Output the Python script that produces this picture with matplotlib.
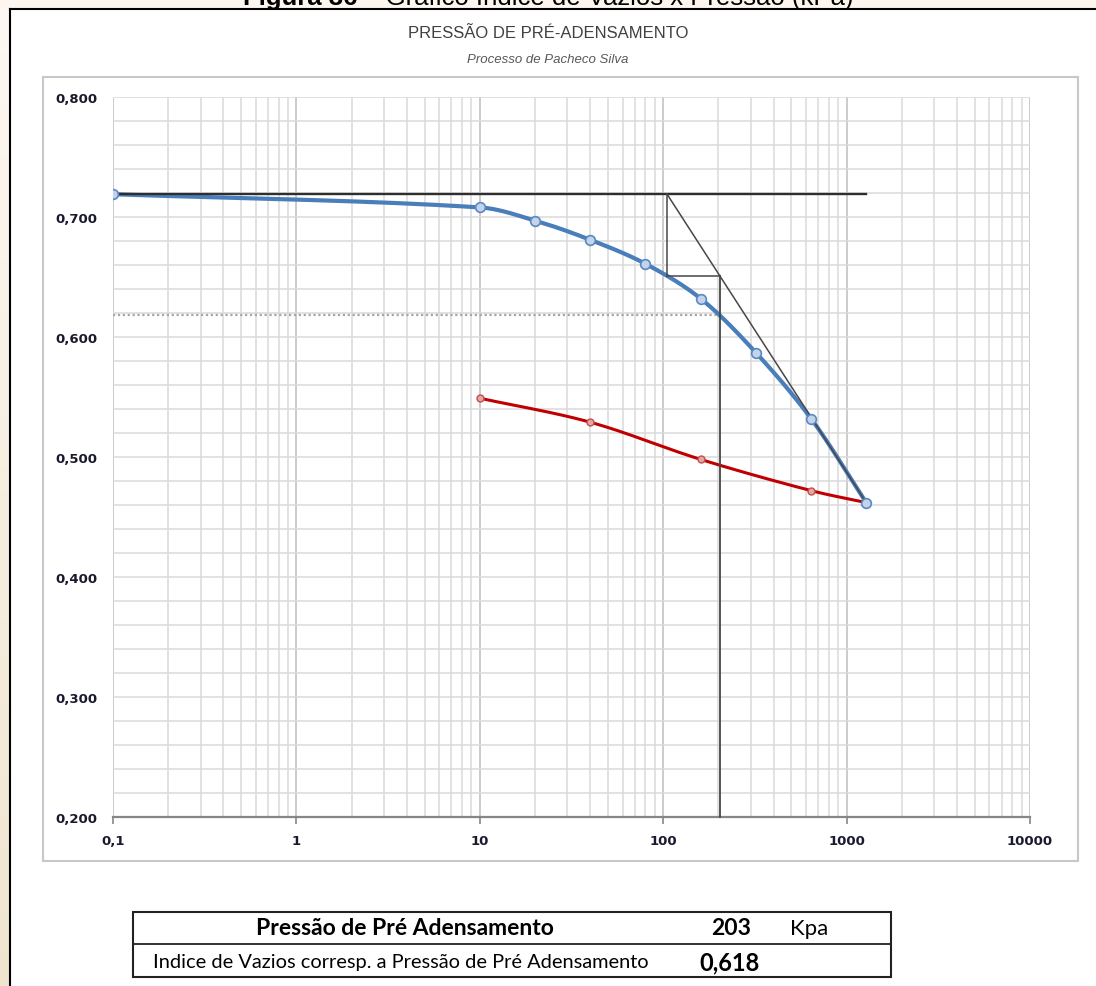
import matplotlib
matplotlib.use('Agg')
import matplotlib.pyplot as plt
import numpy as np
from matplotlib.patches import Rectangle
from matplotlib.lines import Line2D
from matplotlib.ticker import LogLocator, MultipleLocator, NullFormatter

# ensaio de adensamento - carregamento e descarregamento
pressure_load = [0.1, 10, 20, 40, 80, 160, 320, 640, 1280]
void_load = [0.719, 0.708, 0.697, 0.681, 0.661, 0.632, 0.587, 0.532, 0.462]
pressure_unload = [10, 40, 160, 640, 1280]
void_unload = [0.549, 0.529, 0.498, 0.472, 0.462]

# construcao de Pacheco Silva
e0 = 0.719
p_intersect = 105      # reta virgem encontra e0
e_step = 0.651         # nivel da horizontal auxiliar
p_pre = 203            # pressao de pre-adensamento
e_pre = 0.618          # indice de vazios correspondente
p_end = 1280

x_ticks = [0.1, 1, 10, 100, 1000, 10000]
x_labels = ['0,1', '1', '10', '100', '1000', '10000']
y_ticks = [0.2, 0.3, 0.4, 0.5, 0.6, 0.7, 0.8]
y_labels = ['0,200', '0,300', '0,400', '0,500', '0,600', '0,700', '0,800']

W, H = 1096, 987


def fx(px):
    return px / W


def fy(py):
    return 1 - py / H


def smooth(xs, ys, n=40):
    # curva suavizada (bezier) calculada em escala de tela: log x, y
    sx, sy = 183.4, 1200.0
    P = np.column_stack([np.log10(xs) * sx, np.asarray(ys, float) * sy])
    m = len(P)
    T = np.zeros_like(P)
    for i in range(m):
        a = P[max(i - 1, 0)]
        b = P[min(i + 1, m - 1)]
        d = b - a
        T[i] = d / np.hypot(*d)
    t = np.linspace(0, 1, n)[:, None]
    out = []
    for i in range(m - 1):
        p1, p2 = P[i], P[i + 1]
        L = np.hypot(*(p2 - p1)) / 3
        c1 = p1 + T[i] * L
        c2 = p2 - T[i + 1] * L
        seg = (1 - t) ** 3 * p1 + 3 * (1 - t) ** 2 * t * c1 \
            + 3 * (1 - t) * t ** 2 * c2 + t ** 3 * p2
        out.append(seg)
    seg = np.vstack(out)
    return 10 ** (seg[:, 0] / sx), seg[:, 1] / sy


fig = plt.figure(figsize=(W / 100, H / 100), dpi=100)
fig.patch.set_facecolor('white')

# faixa da pagina (fundo bege)
bg = fig.add_axes([0, 0, fx(10), 1])
grad = np.linspace(0, 1, 200)[:, None]
cm = matplotlib.colors.LinearSegmentedColormap.from_list('pg', ['#efe5cf', '#fdf8f3'])
bg.imshow(grad, aspect='auto', cmap=cm, origin='lower', extent=[0, 1, 0, 1])
bg.axis('off')
fig.patches.append(Rectangle((0, fy(10)), 1, 10 / H, transform=fig.transFigure,
                             facecolor='#fdf6ee', edgecolor='none', zorder=0))
fig.lines.append(Line2D([fx(10), 1], [fy(10), fy(10)], transform=fig.transFigure,
                        color='black', lw=1.5))
fig.lines.append(Line2D([fx(10), fx(10)], [0, fy(10)], transform=fig.transFigure,
                        color='black', lw=1.5))

# legenda da figura (cortada no topo da pagina)
cap1 = fig.text(fx(243), fy(5), 'Figura 36', ha='left', va='baseline', fontsize=18.5,
                fontweight='bold', family='Liberation Sans', zorder=3)
fig.canvas.draw()
x1 = cap1.get_window_extent().x1 / W
fig.text(x1, fy(5), ' – Gráfico Índice de Vazios x Pressão (kPa)', ha='left',
         va='baseline', fontsize=18.5, family='Liberation Sans', zorder=3)

# caixa da area do grafico
fig.patches.append(Rectangle((fx(43), fy(862)), (1078 - 43) / W, (862 - 78) / H,
                             transform=fig.transFigure, facecolor='none',
                             edgecolor='#c8c8c8', lw=1.5))

fig.text(0.5, fy(33), 'PRESSÃO DE PRÉ-ADENSAMENTO', ha='center', va='center',
         fontsize=12, color='#404040', family='Liberation Sans')
fig.text(0.5, fy(60), 'Processo de Pacheco Silva', ha='center', va='center',
         fontsize=9.5, color='#595959', style='italic', family='Liberation Sans')

ax = fig.add_axes([fx(113), fy(818), (1030 - 113) / W, (818 - 98) / H])
ax.set_xscale('log')
ax.set_xlim(0.1, 10000)
ax.set_ylim(0.2, 0.8)

ax.xaxis.set_major_locator(LogLocator(base=10, numticks=10))
ax.xaxis.set_minor_locator(LogLocator(base=10, subs=np.arange(2, 10), numticks=20))
ax.xaxis.set_minor_formatter(NullFormatter())
ax.set_xticks(x_ticks)
ax.set_xticklabels(x_labels)
ax.set_yticks(y_ticks)
ax.set_yticklabels(y_labels)
ax.yaxis.set_minor_locator(MultipleLocator(0.02))

ax.grid(which='minor', color='#dadada', lw=1.1)
ax.grid(which='major', axis='y', color='#dadada', lw=1.1)
ax.grid(which='major', axis='x', color='#bdbdbd', lw=1.1)
ax.set_axisbelow(True)

for s in ['left', 'right', 'top']:
    ax.spines[s].set_visible(False)
ax.spines['bottom'].set_color('#868686')
ax.spines['bottom'].set_linewidth(1.6)

ax.tick_params(axis='x', which='major', length=5, width=1.2, color='#868686',
               pad=7, labelsize=9.5)
ax.tick_params(axis='x', which='minor', length=0)
ax.tick_params(axis='y', which='both', length=0, pad=11.5, labelsize=9.5)
for lab in ax.get_xticklabels() + ax.get_yticklabels():
    lab.set_fontweight('bold')
    lab.set_family('DejaVu Sans')
    lab.set_color('#1a1a2e')

# curvas
xs, ys = smooth(pressure_load, void_load)
ax.plot(xs, ys, color='#4a7ebb', lw=3, zorder=3, solid_capstyle='round')
xs, ys = smooth(pressure_unload, void_unload)
ax.plot(xs, ys, color='#c00000', lw=2.2, zorder=3)

# construcao
cc = '#474747'
ax.plot([0.1, p_end], [e0, e0], color='#2e2e2e', lw=1.7, zorder=4)
ax.plot([p_intersect, p_end], [e0, void_load[-1]], color=cc, lw=1.1, zorder=4)
ax.plot([p_intersect, p_intersect], [e0, e_step], color=cc, lw=1.1, zorder=4)
ax.plot([p_intersect, p_pre], [e_step, e_step], color=cc, lw=1.1, zorder=4)
ax.plot([p_pre, p_pre], [e_step, 0.2], color=cc, lw=1.3, zorder=4, clip_on=False)
ax.plot([0.1, p_pre], [e_pre, e_pre], color='#a6a6a6', lw=1.6, ls=(0, (1, 1.2)),
        zorder=2)

ax.plot(pressure_unload, void_unload, 'o', ms=5, mfc='#e6a5a5', mec='#c0504d',
        mew=1, zorder=5)
ax.plot(pressure_load, void_load, 'o', ms=7, mfc='#c3d4ea', mec='#5b87c2',
        mew=1.2, zorder=5)

# tabela com o resultado
tl, tr, tt, tm, tb = 133, 891, 913, 945, 978
fig.patches.append(Rectangle((fx(tl), fy(tb)), (tr - tl) / W, (tb - tt) / H,
                             transform=fig.transFigure, facecolor='none',
                             edgecolor='#222222', lw=1.5))
fig.lines.append(Line2D([fx(tl), fx(tr)], [fy(tm), fy(tm)], transform=fig.transFigure,
                        color='#222222', lw=1.3))
fig.text(fx(405), fy(929), 'Pressão de Pré Adensamento', ha='center', va='center',
         fontsize=16.5, fontweight='bold', family='Lato')
fig.text(fx(731), fy(929), str(p_pre), ha='center', va='center',
         fontsize=16.5, fontweight='bold', family='Lato')
fig.text(fx(809), fy(929), 'Kpa', ha='center', va='center', fontsize=16,
         family='Lato')
fig.text(fx(153), fy(963), 'Indice de Vazios corresp. a Pressão de Pré Adensamento',
         ha='left', va='center', fontsize=14.4, family='Lato')
fig.text(fx(729), fy(963), f'{e_pre:.3f}'.replace('.', ','), ha='center', va='center',
         fontsize=17, fontweight='bold', family='Lato')

fig.savefig('out.png', dpi=100)
